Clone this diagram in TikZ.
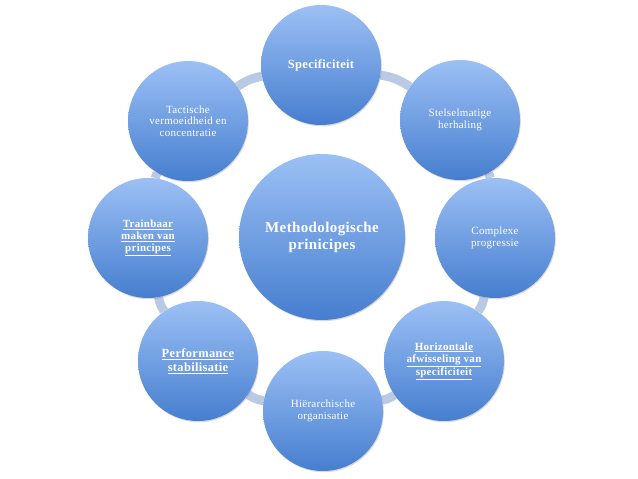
\documentclass[tikz,border=0pt]{standalone}
\usepackage{fontspec}
\setmainfont{Liberation Serif}[LetterSpace=2.5]
\usetikzlibrary{shadows,backgrounds}
\definecolor{ctop}{RGB}{156,192,245}
\definecolor{cbot}{RGB}{70,126,207}
\definecolor{ringc}{RGB}{186,201,228}
\begin{document}
\begin{tikzpicture}[x=1pt,y=-1pt,
  bub/.style={circle, minimum size=120pt, inner sep=0pt, shading=axis,
    top color=ctop, bottom color=cbot, draw=none, text=white, align=center,
    font=\fontsize{11}{11.5}\selectfont,
    drop shadow={shadow xshift=0.8pt, shadow yshift=-1.2pt, opacity=0.3, fill=black!50}},
  conn/.style={line width=9pt, draw=ringc}]
\useasboundingbox (0,0) rectangle (638,479);
\node[bub, minimum size=166pt, font=\fontsize{15}{17}\selectfont\bfseries] (m) at (322,237) {Methodologische\\prinicipes};
\node[bub, font=\fontsize{12.5}{13}\selectfont\bfseries] (s1) at (321,65) {Specificiteit};
\node[bub] (s2) at (460,120) {Stelselmatige\\herhaling};
\node[bub] (s3) at (495,238) {Complexe\\progressie};
\node[bub, font=\fontsize{11}{12}\selectfont\bfseries] (s4) at (444,361) {\underline{Horizontale}\\\underline{afwisseling van}\\\underline{specificiteit}};
\node[bub] (s5) at (323,411) {Hiërarchische\\organisatie};
\node[bub, font=\fontsize{12.5}{14}\selectfont\bfseries] (s6) at (198,361) {\underline{Performance}\\\underline{stabilisatie}};
\node[bub, font=\fontsize{11}{12}\selectfont\bfseries] (s7) at (148,238) {\underline{Trainbaar}\\\underline{maken van}\\\underline{principes}};
\node[bub] (s8) at (188,121) {Tactische\\vermoeidheid en\\concentratie};
\begin{scope}[on background layer]
\foreach \a/\b in {s1/s2,s2/s3,s3/s4,s4/s5,s5/s6,s6/s7,s7/s8,s8/s1}
  \draw[conn] (\a) to[bend left=12] (\b);
\end{scope}
\end{tikzpicture}
\end{document}
